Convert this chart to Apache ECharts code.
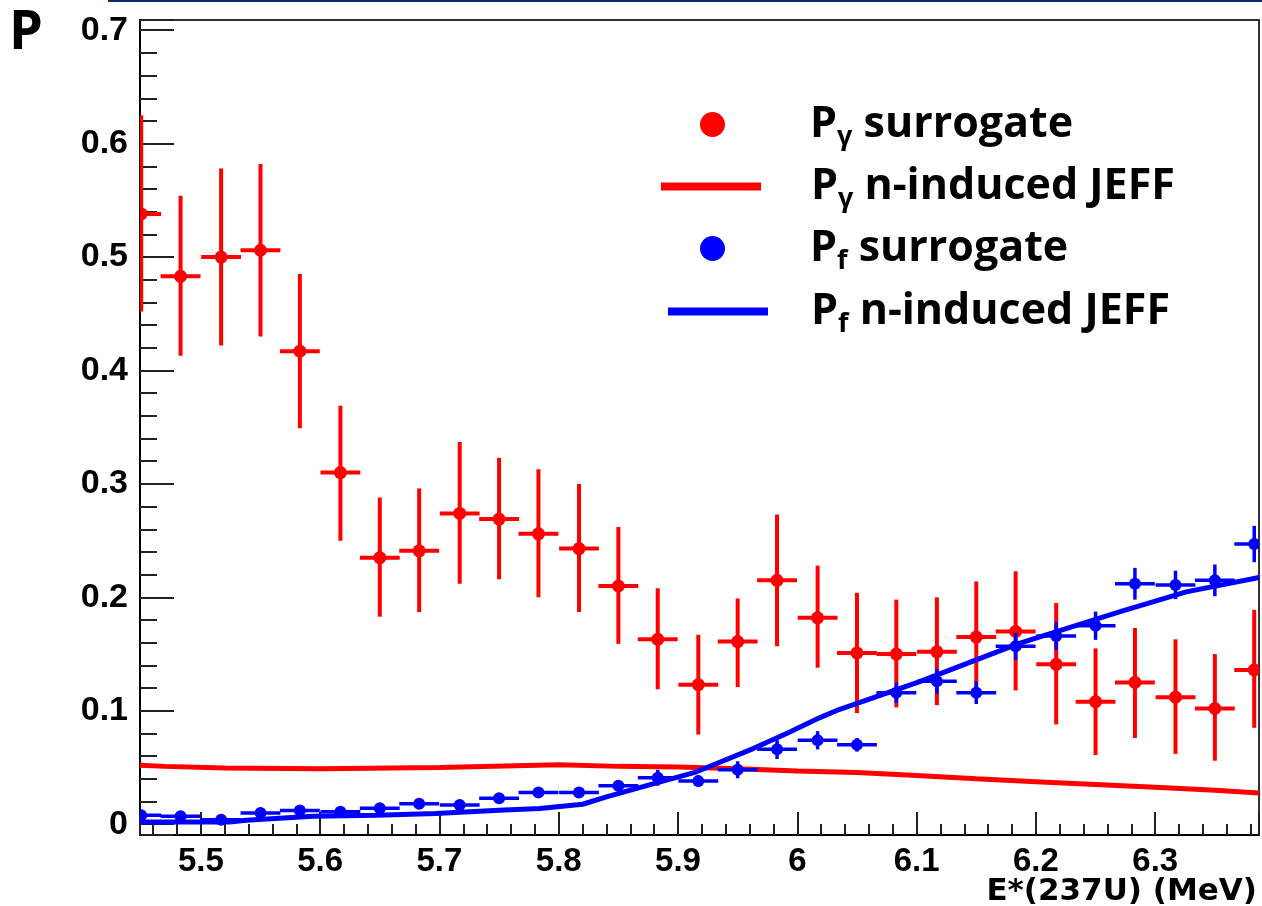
<!DOCTYPE html>
<html>
<head>
<meta charset="utf-8">
<script src="https://cdn.jsdelivr.net/npm/echarts@6/dist/echarts.min.js"></script>
<style>
html,body{margin:0;padding:0;background:#fff;}
#chart{width:1262px;height:906px;}
</style>
</head>
<body>
<div id="chart"></div>
<script>
// ---------------- data ----------------
const energy = [5.450, 5.483, 5.517, 5.550, 5.583, 5.617, 5.650, 5.683, 5.717, 5.750,
                5.783, 5.817, 5.850, 5.883, 5.917, 5.950, 5.983, 6.017, 6.050, 6.083,
                6.117, 6.150, 6.183, 6.217, 6.250, 6.283, 6.317, 6.350, 6.383];
const binHalfWidth = 0.0167;

const pGammaSurrogate = [0.538, 0.483, 0.500, 0.506, 0.417, 0.310, 0.235, 0.241, 0.274, 0.269,
                         0.256, 0.243, 0.210, 0.163, 0.123, 0.161, 0.215, 0.182, 0.151, 0.150,
                         0.152, 0.165, 0.170, 0.141, 0.108, 0.125, 0.112, 0.102, 0.136];
const pGammaLow  = [0.452, 0.413, 0.422, 0.430, 0.349, 0.250, 0.183, 0.187, 0.212, 0.216,
                    0.200, 0.187, 0.159, 0.119, 0.079, 0.121, 0.157, 0.138, 0.098, 0.103,
                    0.105, 0.117, 0.118, 0.088, 0.061, 0.076, 0.062, 0.056, 0.085];
const pGammaHigh = [0.625, 0.554, 0.578, 0.582, 0.485, 0.369, 0.288, 0.296, 0.337, 0.323,
                    0.313, 0.300, 0.262, 0.208, 0.167, 0.199, 0.273, 0.228, 0.204, 0.198,
                    0.200, 0.214, 0.223, 0.195, 0.155, 0.173, 0.163, 0.150, 0.189];

const pFSurrogate = [0.008, 0.007, 0.004, 0.010, 0.012, 0.011, 0.014, 0.018, 0.017, 0.023,
                     0.028, 0.028, 0.034, 0.041, 0.038, 0.048, 0.066, 0.074, 0.070, 0.116,
                     0.126, 0.116, 0.157, 0.166, 0.175, 0.212, 0.211, 0.215, 0.247];
const pFError = [0.003, 0.003, 0.003, 0.003, 0.003, 0.003, 0.003, 0.003, 0.003, 0.004,
                 0.004, 0.004, 0.004, 0.007, 0.005, 0.0075, 0.0085, 0.008, 0.006, 0.009,
                 0.011, 0.010, 0.012, 0.0125, 0.0125, 0.014, 0.0125, 0.014, 0.016];

const jeffGammaE = [5.449, 5.47, 5.52, 5.60, 5.70, 5.80, 5.85, 5.90, 5.95, 6.00,
                    6.05, 6.10, 6.15, 6.20, 6.25, 6.30, 6.35, 6.387];
const jeffGammaP = [0.052, 0.051, 0.0495, 0.049, 0.050, 0.0525, 0.051, 0.0505, 0.049, 0.047,
                    0.0455, 0.043, 0.040, 0.0375, 0.035, 0.0325, 0.030, 0.0276];

const jeffFissionE = [5.449, 5.524, 5.538, 5.594, 5.647, 5.697, 5.750, 5.784, 5.820, 5.840,
                      5.882, 5.915, 5.963, 5.991, 6.019, 6.035, 6.102, 6.186, 6.270, 6.326, 6.387];
const jeffFissionP = [0.002, 0.002, 0.0035, 0.007, 0.008, 0.0094, 0.0123, 0.0138, 0.0176, 0.0241,
                      0.0364, 0.046, 0.0667, 0.080, 0.094, 0.1011, 0.1255, 0.1594, 0.1872, 0.2048, 0.2175];

const seriesNames = ['Pγ surrogate', 'Pγ n-induced JEFF', 'Pf surrogate', 'Pf n-induced JEFF'];
const legendLabels = ['{p|P}{s|γ}{p| surrogate}', '{p|P}{s|γ}{p| n-induced JEFF}',
                      '{p|P}{s|f}{p| surrogate}', '{p|P}{s|f}{p| n-induced JEFF}'];
const xTitle = 'E*(237U) (MeV)';
const yTitle = 'P';

// ---------------- build ----------------
const RED = '#ff0000', BLUE = '#0000ff';
const gammaPts = energy.map((e, i) => [e, pGammaSurrogate[i], pGammaLow[i], pGammaHigh[i]]);
const fisPts = energy.map((e, i) => [e, pFSurrogate[i], pFSurrogate[i] - pFError[i], pFSurrogate[i] + pFError[i]]);
const jeffGamma = jeffGammaE.map((e, i) => [e, jeffGammaP[i]]);
const jeffFission = jeffFissionE.map((e, i) => [e, jeffFissionP[i]]);

function errRender(color, lw, r) {
  return function (params, api) {
    const x = api.value(0), y = api.value(1), lo = api.value(2), hi = api.value(3);
    const pL = api.coord([x - binHalfWidth, y]);
    const pR = api.coord([x + binHalfWidth, y]);
    const pLo = api.coord([x, lo]);
    const pHi = api.coord([x, hi]);
    const c = api.coord([x, y]);
    return {
      type: 'group',
      children: [
        {type: 'line', shape: {x1: pL[0], y1: pL[1], x2: pR[0], y2: pR[1]}, style: {stroke: color, lineWidth: lw}},
        {type: 'line', shape: {x1: pLo[0], y1: pLo[1], x2: pHi[0], y2: pHi[1]}, style: {stroke: color, lineWidth: lw}},
        {type: 'circle', shape: {cx: c[0], cy: c[1], r: r}, style: {fill: color}}
      ]
    };
  };
}

const labelFont = 'Liberation Sans';
const legendFont = 'Open Sans';
const legendRich = {
  p: {fontFamily: legendFont, fontWeight: 'bold', fontSize: 43, lineHeight: 43, color: '#000', verticalAlign: 'middle'},
  s: {fontFamily: legendFont, fontWeight: 'bold', fontSize: 27, lineHeight: 27, color: '#000', verticalAlign: 'middle', padding: [26, 0, 0, 0]}
};
function mkLegend(idx, left, top, icon, w, h, padLeft) {
  return {
    show: true, orient: 'vertical', left: left, top: top, padding: 0,
    itemWidth: w, itemHeight: h, selectedMode: false,
    data: [{name: seriesNames[idx], icon: icon}],
    formatter: () => legendLabels[idx],
    textStyle: {fontFamily: legendFont, fontWeight: 'bold', fontSize: 43, color: '#000', padding: [0, 0, 0, padLeft], rich: legendRich}
  };
}

const chart = echarts.init(document.getElementById('chart'), null, {renderer: 'canvas'});
chart.setOption({
  animation: false,
  backgroundColor: '#fff',
  title: [
    {text: yTitle, left: 9, top: 7, padding: 0,
     textStyle: {fontFamily: 'Open Sans', fontWeight: 'bold', fontSize: 54, color: '#000'}},
    {text: xTitle, right: 5, top: 876, padding: 0,
     textStyle: {fontFamily: 'DejaVu Sans', fontWeight: 'bold', fontSize: 31, color: '#000'}}
  ],
  graphic: [
    {type: 'line', shape: {x1: 108, y1: 1, x2: 1262, y2: 1}, style: {stroke: '#0f2d72', lineWidth: 2}}
  ],
  legend: [
    mkLegend(0, 700, 98, 'circle', 25, 28, 80),
    mkLegend(1, 661, 160, 'rect', 100, 8, 45),
    mkLegend(2, 700, 222, 'circle', 25, 28, 80),
    mkLegend(3, 668, 285, 'rect', 100, 8, 38)
  ],
  grid: {left: 140, right: 3, top: 20, bottom: 71, show: true, borderColor: '#333', borderWidth: 2,
         containLabel: false, outerBoundsMode: 'none'},
  xAxis: {
    type: 'value', min: 5.449, max: 6.387, splitNumber: 9, minInterval: 0.1, maxInterval: 0.1,
    axisLine: {show: true, onZero: false, lineStyle: {color: '#000', width: 2}},
    axisTick: {show: true, inside: true, length: 23, lineStyle: {color: '#222', width: 2}},
    minorTick: {show: true, splitNumber: 5, length: 11, lineStyle: {color: '#222', width: 2}},
    splitLine: {show: false},
    axisLabel: {showMinLabel: false, showMaxLabel: false, margin: 10,
                fontFamily: labelFont, fontWeight: 'bold', fontSize: 33, color: '#000'}
  },
  yAxis: {
    type: 'value', min: -0.0095, max: 0.709, splitNumber: 7, minInterval: 0.1, maxInterval: 0.1,
    axisLine: {show: true, onZero: false, lineStyle: {color: '#000', width: 2}},
    axisTick: {show: true, inside: true, length: 34, lineStyle: {color: '#222', width: 2}},
    minorTick: {show: true, splitNumber: 5, length: 17, lineStyle: {color: '#222', width: 2}},
    splitLine: {show: false},
    axisLabel: {showMinLabel: false, showMaxLabel: false, margin: 12,
                fontFamily: labelFont, fontWeight: 'bold', fontSize: 34, color: '#000'}
  },
  series: [
    {name: seriesNames[0], type: 'custom', data: gammaPts, clip: true, z: 2,
     itemStyle: {color: RED}, encode: {x: 0, y: [1, 2, 3]},
     renderItem: errRender(RED, 4, 6.5)},
    {name: seriesNames[1], type: 'line', data: jeffGamma, showSymbol: false, symbol: 'none', z: 3,
     itemStyle: {color: RED}, lineStyle: {color: RED, width: 5}},
    {name: seriesNames[2], type: 'custom', data: fisPts, clip: true, z: 4,
     itemStyle: {color: BLUE}, encode: {x: 0, y: [1, 2, 3]},
     renderItem: errRender(BLUE, 3.5, 6)},
    {name: seriesNames[3], type: 'line', data: jeffFission, showSymbol: false, symbol: 'none', z: 5,
     itemStyle: {color: BLUE}, lineStyle: {color: BLUE, width: 5}}
  ]
});
</script>
</body>
</html>
